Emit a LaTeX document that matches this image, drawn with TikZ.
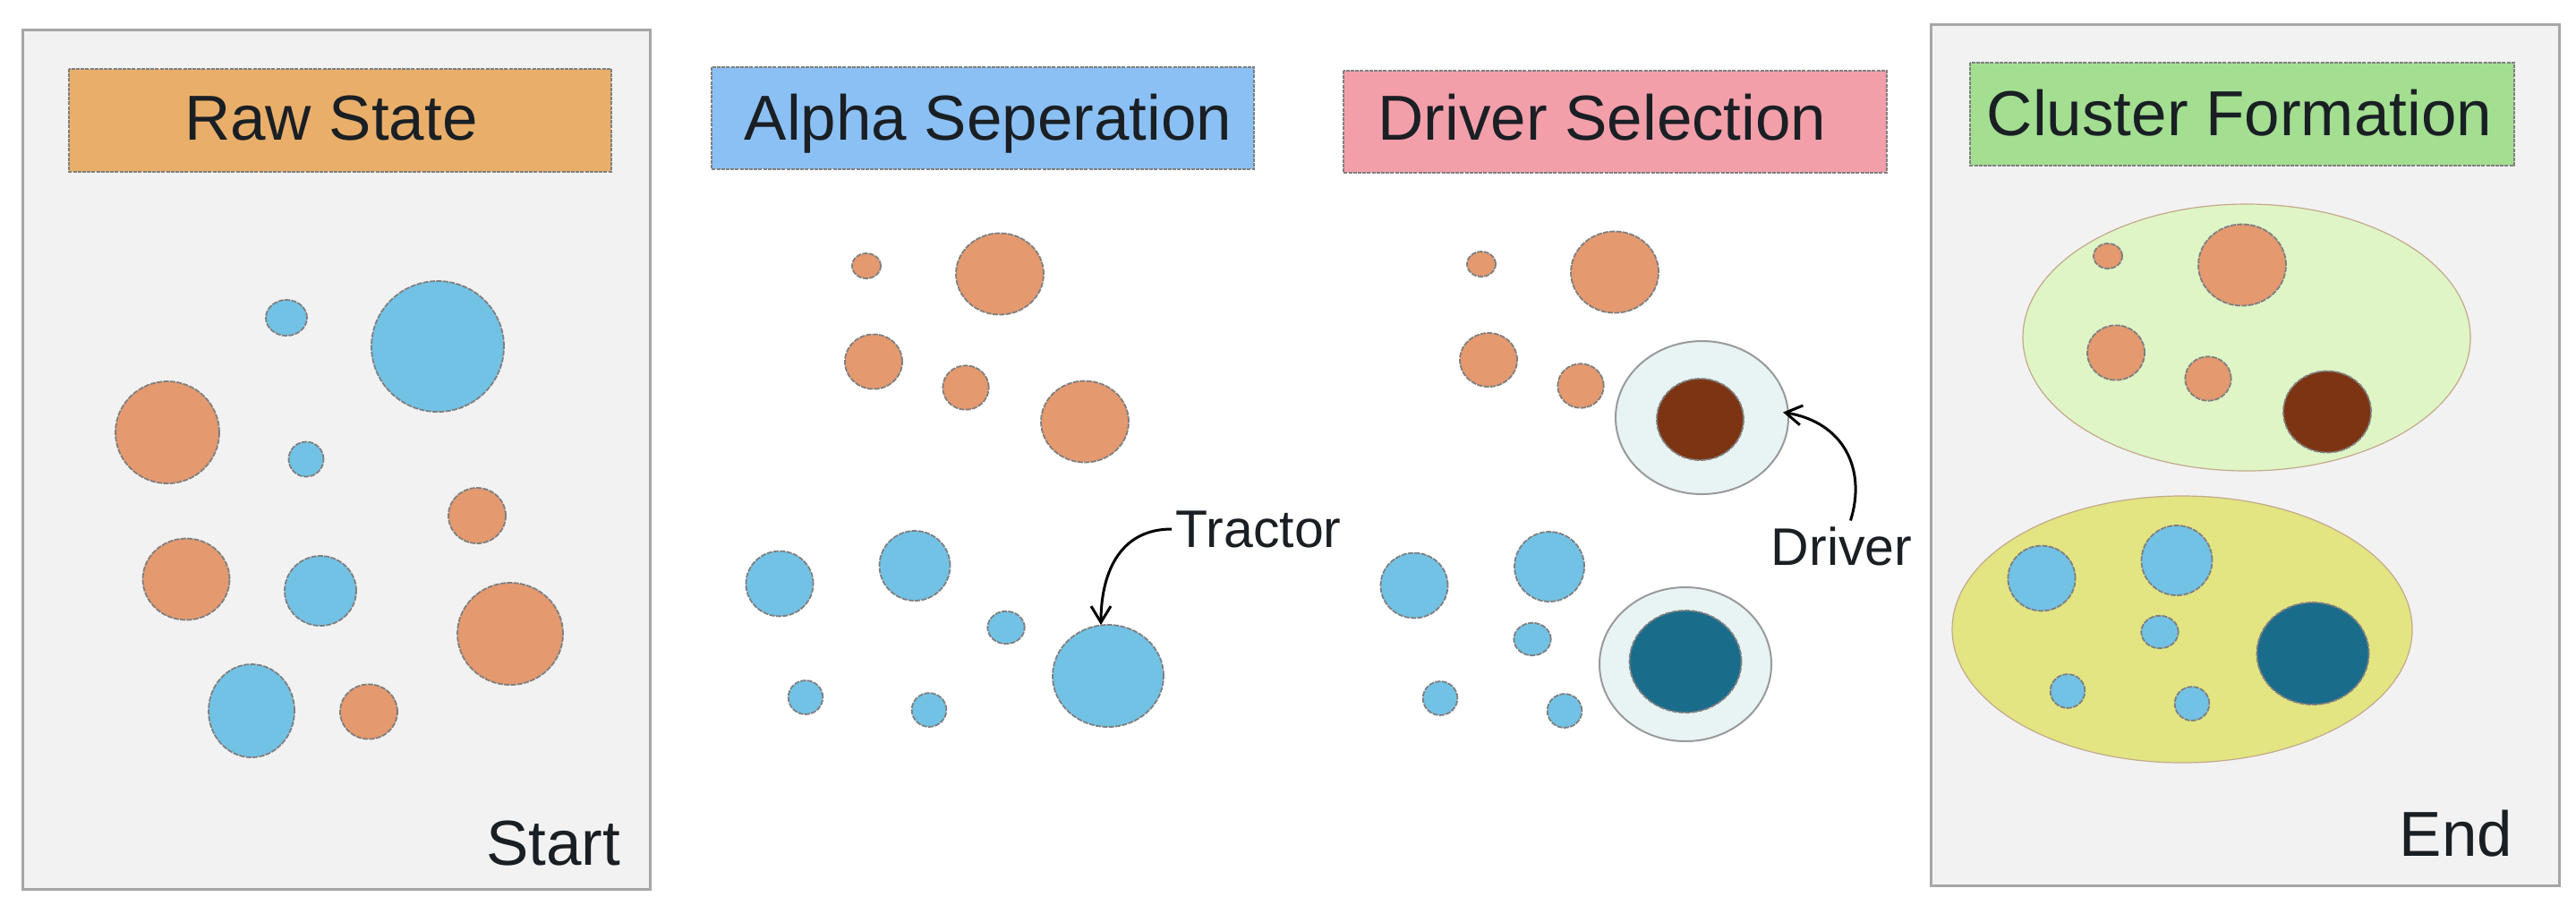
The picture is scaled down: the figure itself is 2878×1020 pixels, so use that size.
\documentclass[tikz,border=0pt]{standalone}
\usepackage{fontspec}
\setmainfont{Liberation Sans}
\usetikzlibrary{shapes.geometric,arrows.meta}
\definecolor{ofill}{HTML}{E4996F}
\definecolor{bfill}{HTML}{72C2E6}
\definecolor{dashgray}{HTML}{7F7F7F}
\definecolor{panelfill}{HTML}{F2F2F2}
\definecolor{panelline}{HTML}{A6A6A6}
\definecolor{hdrorange}{HTML}{E9AF6A}
\definecolor{hdrblue}{HTML}{8BC0F4}
\definecolor{hdrpink}{HTML}{F29FAA}
\definecolor{hdrgreen}{HTML}{A3DE91}
\definecolor{ringfill}{HTML}{E8F4F4}
\definecolor{ringline}{HTML}{9A9A9A}
\definecolor{drvbrown}{HTML}{7C3413}
\definecolor{drvteal}{HTML}{1A6C8B}
\definecolor{topell}{HTML}{DFF5C6}
\definecolor{botell}{HTML}{E2E582}
\definecolor{ellline}{HTML}{C4A98C}
\definecolor{txt}{HTML}{1A1F24}
\begin{document}
\begin{tikzpicture}[x=0.25pt,y=-0.25pt,
  sz/.style 2 args={minimum width=#1*0.5pt, minimum height=#2*0.5pt},
  blob/.style={ellipse, inner sep=0pt, outer sep=0pt, draw=dashgray, line width=0.45pt, dash pattern=on 1.5pt off 0.35pt},
  ob/.style={blob, fill=ofill},
  bb/.style={blob, fill=bfill},
  brownb/.style={blob, fill=drvbrown},
  tealb/.style={blob, fill=drvteal},
  ringb/.style={ellipse, inner sep=0pt, outer sep=0pt, draw=ringline, line width=0.5pt, fill=ringfill},
  clus/.style={ellipse, inner sep=0pt, outer sep=0pt, draw=ellline, line width=0.3pt},
  panel/.style={draw=panelline, fill=panelfill, line width=0.75pt},
  hdrbox/.style={draw=dashgray, line width=0.45pt, dash pattern=on 1pt off 0.3pt},
  hdr/.style={inner sep=0pt, text=txt, font=\fontsize{17.75pt}{20pt}\selectfont},
  lbl/.style={inner sep=1.5pt, text=txt, font=\fontsize{14.75pt}{17pt}\selectfont},
  arr/.style={draw=black, line width=0.75pt, -{Straight Barb[length=4.5pt,width=5.5pt]}}
]
\useasboundingbox (0,0) rectangle (2878,1020);
\fill[white] (0,0) rectangle (2878,1020);

% panels
\draw[panel] (25,33) rectangle (726,993);
\draw[panel] (2157,27) rectangle (2859,989);

% headers
\draw[hdrbox, fill=hdrorange] (77,77) rectangle (683,192);
\draw[hdrbox, fill=hdrblue] (795,75) rectangle (1401,189);
\draw[hdrbox, fill=hdrpink] (1501,79) rectangle (2108,193);
\draw[hdrbox, fill=hdrgreen] (2201,70) rectangle (2809,185);
\node[hdr, anchor=base] (h1) at (370,156) {Raw State};
\node[hdr, anchor=base] (h2) at (1104,156) {Alpha Seperation};
\node[hdr, anchor=base] (h3) at (1790,156) {Driver Selection};
\node[hdr, anchor=base] (h4) at (2502,151) {Cluster Formation};

% panel 1: raw state
\node[bb, sz={23}{20}] (p1a) at (320,355) {};
\node[bb, sz={74}{73}] (p1b) at (489,387) {};
\node[ob, sz={58}{57}] (p1c) at (187,483) {};
\node[bb, sz={19.5}{19.5}] (p1d) at (342,513) {};
\node[ob, sz={32}{31}] (p1e) at (533,576) {};
\node[ob, sz={48.5}{45.5}] (p1f) at (208,647) {};
\node[bb, sz={40}{39}] (p1g) at (358,660) {};
\node[ob, sz={59}{57}] (p1h) at (570,708) {};
\node[bb, sz={48}{52}] (p1i) at (281,794) {};
\node[ob, sz={32}{30.6}] (p1j) at (412,795) {};
\node[hdr, anchor=base east] (start) at (694,966) {Start};

% panel 2: alpha separation
\node[ob, sz={16}{14}] (p2a) at (968,297) {};
\node[ob, sz={49}{45.5}] (p2b) at (1117,306) {};
\node[ob, sz={32}{30.6}] (p2c) at (976,404) {};
\node[ob, sz={25.7}{24.7}] (p2d) at (1079,433) {};
\node[ob, sz={49}{45.5}] (p2e) at (1212,471) {};
\node[bb, sz={37.6}{36.4}] (p2f) at (871,652) {};
\node[bb, sz={39.5}{39}] (p2g) at (1022,632) {};
\node[bb, sz={20.7}{18.2}] (p2h) at (1124,701) {};
\node[bb, sz={62}{57}] (tc) at (1238,755) {};
\node[bb, sz={19.3}{18.9}] (p2i) at (900,779) {};
\node[bb, sz={19.3}{18.9}] (p2j) at (1038,793) {};
\node[lbl, anchor=base west, inner sep=0pt] (trl) at (1313,611) {Tractor};
\draw[arr] ([xshift=-1pt]trl.west) .. controls +(-60,0) and +(0,-55) .. ([xshift=-2pt]tc.north);

% panel 3: driver selection
\node[ob, sz={16}{14}] (p3a) at (1655,295) {};
\node[ob, sz={49}{45.5}] (p3b) at (1804,304) {};
\node[ob, sz={32}{30}] (p3c) at (1663,402) {};
\node[ob, sz={25.7}{24.7}] (p3d) at (1766,431) {};
\node[ringb, sz={96.5}{85.5}] (ring1) at (1901.5,466.5) {};
\node[brownb, sz={48.5}{45.5}] (drv1) at (1899.5,468.5) {};
\node[bb, sz={37.5}{36.4}] (p3f) at (1580,654) {};
\node[bb, sz={39}{39}] (p3g) at (1731,633) {};
\node[bb, sz={20.7}{18.2}] (p3h) at (1712,714) {};
\node[bb, sz={19.3}{18.9}] (p3i) at (1609,780) {};
\node[bb, sz={19.3}{18.9}] (p3j) at (1748,794) {};
\node[ringb, sz={96}{86}] (ring2) at (1883,742) {};
\node[tealb, sz={62.5}{57}] (drv2) at (1883,739) {};
\node[lbl, anchor=base west] (drl) at (1972,631) {Driver};
\draw[arr] ([xshift=2.5pt]drl.north) .. controls +(18,-57) and +(68,11) .. ([xshift=-1.5pt,yshift=1.5pt]ring1.east);

% panel 4: cluster formation
\node[clus, fill=topell, sz={250}{149}] (cl1) at (2510,377) {};
\node[clus, fill=botell, sz={257}{149}] (cl2) at (2438,703) {};
\node[ob, sz={16}{14}] (p4a) at (2355,286) {};
\node[ob, sz={49}{45.5}] (p4b) at (2505,296) {};
\node[ob, sz={32}{30.6}] (p4c) at (2364,394) {};
\node[ob, sz={25.7}{24.7}] (p4d) at (2467,423) {};
\node[brownb, sz={49}{45.5}] (p4e) at (2600,460) {};
\node[bb, sz={37.6}{36.4}] (p4f) at (2281,646) {};
\node[bb, sz={39.5}{39}] (p4g) at (2432,626) {};
\node[bb, sz={20.7}{18.2}] (p4h) at (2413,706) {};
\node[bb, sz={19.3}{18.9}] (p4i) at (2310,772) {};
\node[bb, sz={19.3}{18.9}] (p4j) at (2449,786) {};
\node[tealb, sz={62.6}{57}] (p4k) at (2584,730) {};
\node[hdr, anchor=base east] (endl) at (2808,956) {End};
\end{tikzpicture}
\end{document}
